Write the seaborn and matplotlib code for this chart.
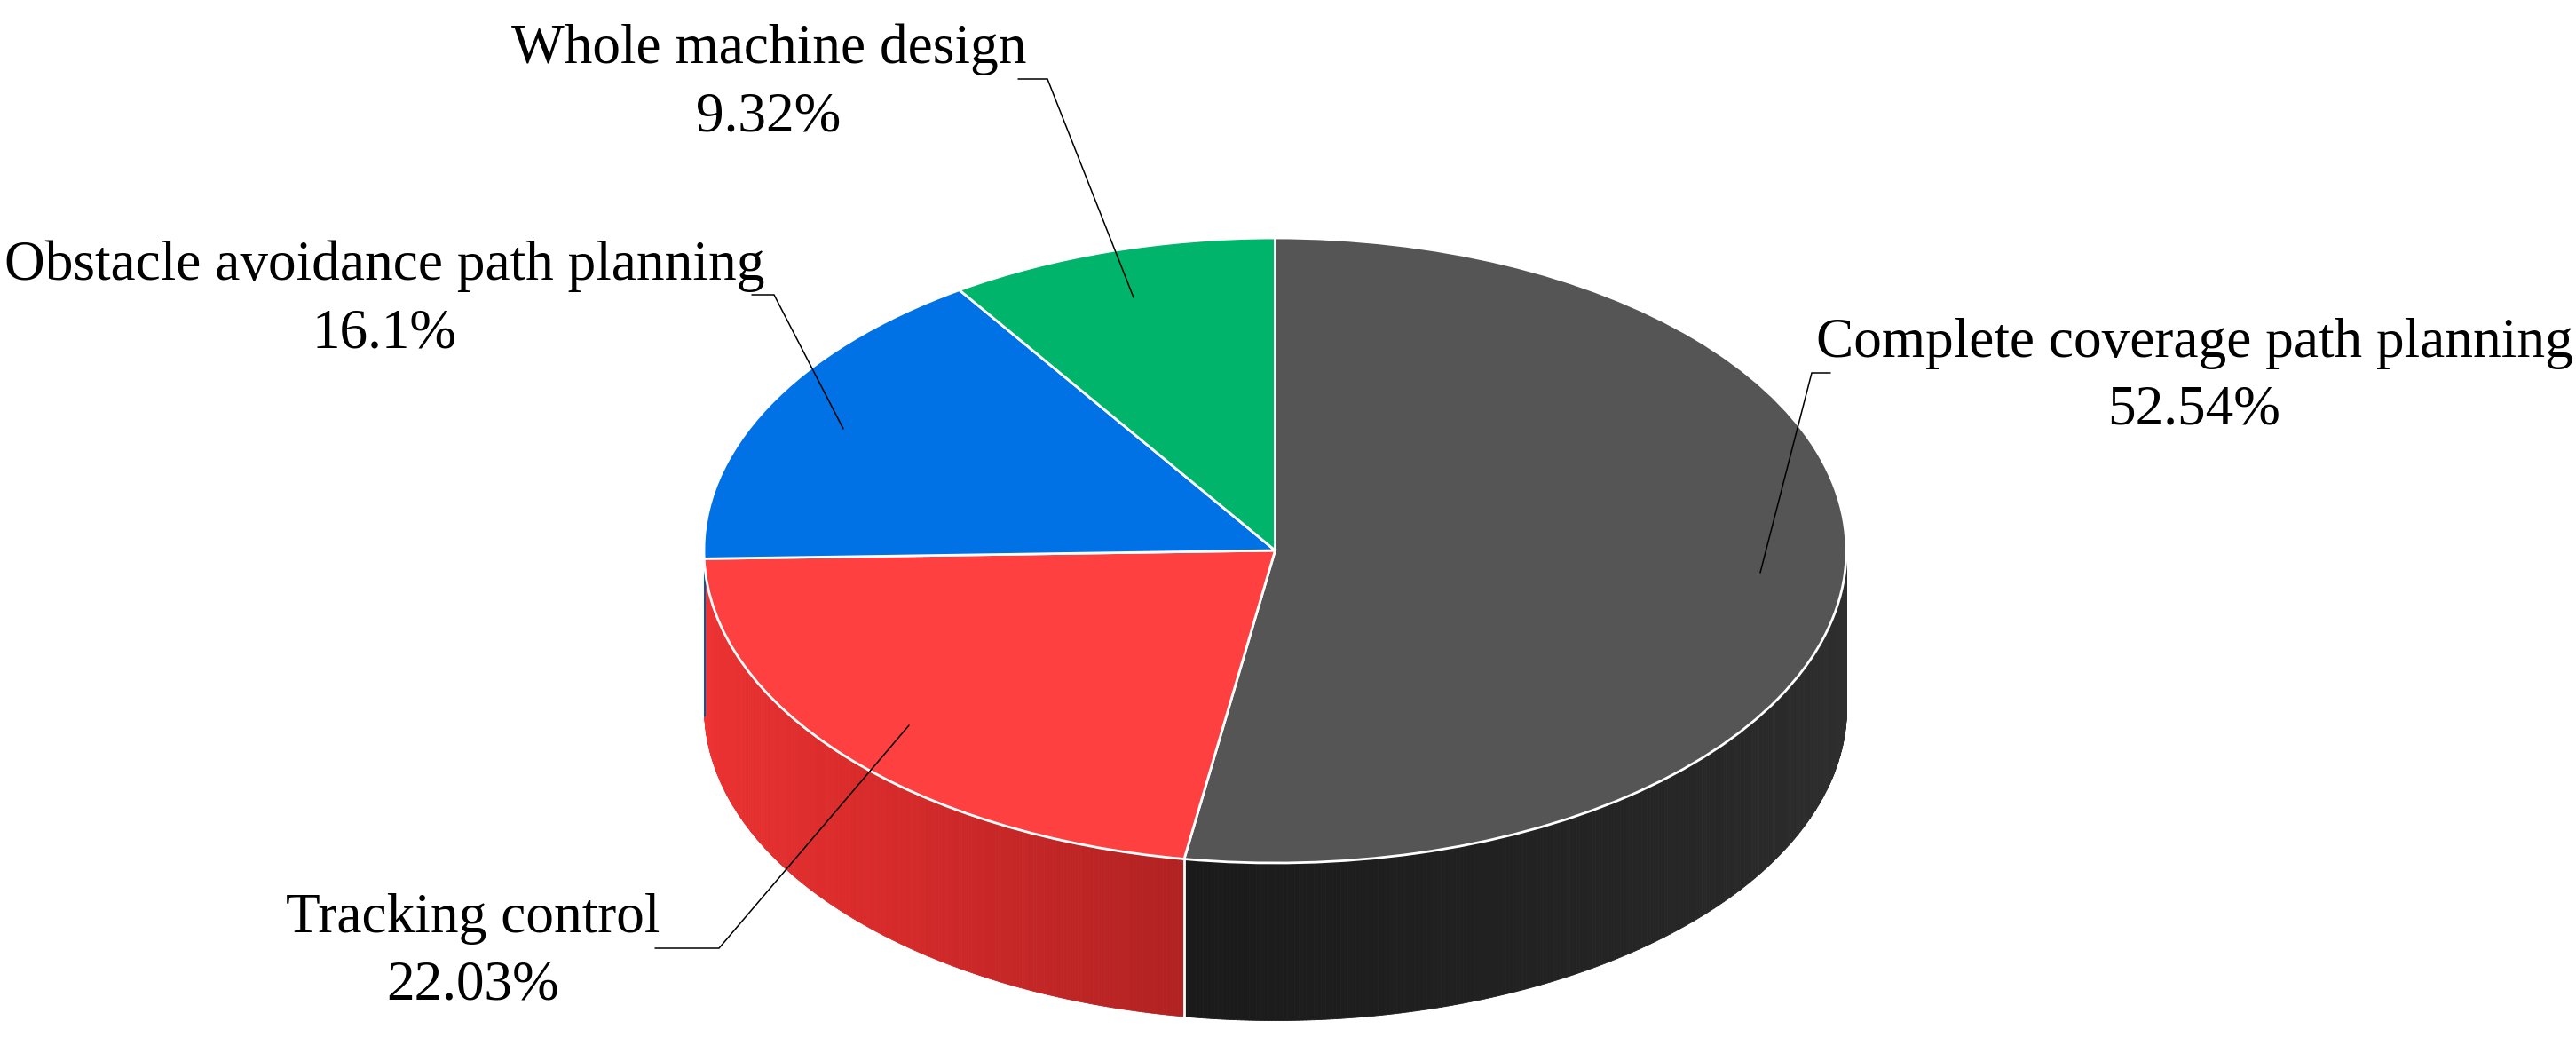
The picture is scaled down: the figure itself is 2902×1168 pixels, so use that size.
import numpy as np
import matplotlib
matplotlib.use('Agg')
import matplotlib.pyplot as plt
from matplotlib.colors import LinearSegmentedColormap
from matplotlib.transforms import Affine2D
import seaborn as sns

# chart data
categories = ['Complete coverage path planning', 'Tracking control',
              'Obstacle avoidance path planning', 'Whole machine design']
shares = [52.54, 22.03, 16.1, 9.32]
share_labels = ['52.54%', '22.03%', '16.1%', '9.32%']

# styles
top_colors = ['#555555', '#FF4040', '#0072E6', '#00B56B']
side_stops = [
    [(0, '#303030'), (1, '#1A1A1A')],
    [(0, '#B22222'), (0.4, '#D52A2A'), (0.55, '#DE2C2C'), (1, '#F03434')],
    [(0, '#0058B0'), (1, '#0058B0')],
    [(0, '#008A52'), (1, '#008A52')],
]

# layout, all in pixels of the 2902x1168 picture
cx, cy = 1436.5, 620
rx, ry = 643.5, 352
depth = 177
label_xy = [(2472, 402, 478), (533, 1050, 1126), (433, 315, 391), (866, 71, 148)]
leaders = [
    ([2062, 2041, 1983], [420, 420, 645]),
    ([738, 810, 1024], [1068, 1068, 817]),
    ([847, 872, 950], [332, 332, 483]),
    ([1147, 1180, 1277], [89, 89, 335]),
]

sns.set_theme(style='white')
plt.rcParams['font.family'] = ['Liberation Serif', 'DejaVu Serif']
plt.rcParams['mathtext.fontset'] = 'stix'

fig = plt.figure(figsize=(29.02, 11.68), dpi=100, facecolor='white')
ax = fig.add_axes([0, 0, 1, 1])

# top face: an ordinary pie squashed to an ellipse (screen y points down)
wedges, _ = ax.pie(shares, colors=sns.color_palette(top_colors), startangle=90,
                   counterclock=False,
                   wedgeprops={'edgecolor': 'white', 'linewidth': 2.0})
ax.set_aspect('auto')
ax.set_xlim(0, 2902)
ax.set_ylim(1168, 0)
ax.axis('off')
squash = Affine2D().scale(rx, -ry).translate(cx, cy) + ax.transData
for w in wedges:
    w.set_transform(squash)
    w.set_zorder(3)

# side wall: only the part of each slice facing the viewer
edges = 90 - np.cumsum([0] + shares) / sum(shares) * 360
for i in range(len(shares)):
    cmap = LinearSegmentedColormap.from_list('side%d' % i, side_stops[i])
    hi, lo = edges[i], edges[i + 1]
    vis_hi = min(hi, 0)
    vis_lo = max(lo, -180)
    if vis_hi <= vis_lo:
        continue
    th = np.radians(np.linspace(vis_hi, vis_lo, 260))
    for j in range(len(th) - 1):
        seg = np.linspace(th[j], th[j + 1], 3)
        x = cx + rx * np.cos(seg)
        y = cy - ry * np.sin(seg)
        col = cmap(j / (len(th) - 2))
        ax.fill_between(x, y, y + depth, color=col, linewidth=0.6, zorder=1)
    # white seam between two neighbouring walls
    bx = np.cos(np.radians(lo))
    if abs(bx) < 0.9 and lo > -180:
        sx = cx + rx * bx
        sy = cy - ry * np.sin(np.radians(lo))
        ax.plot([sx, sx], [sy, sy + depth], color='white', lw=2.0, zorder=2,
                solid_capstyle='butt')

# leader lines
for xs, ys in leaders:
    ax.plot(xs, ys, color='black', lw=1.1, zorder=4, solid_joinstyle='miter')

# labels
for name, pct, (lx, y1, y2) in zip(categories, share_labels, label_xy):
    ax.text(lx, y1, name, ha='center', va='baseline', fontsize=45.5, color='black', zorder=5)
    ax.text(lx, y2, pct, ha='center', va='baseline', fontsize=45.5, color='black', zorder=5)

fig.savefig('out.png', dpi=100, facecolor='white')
plt.close(fig)
